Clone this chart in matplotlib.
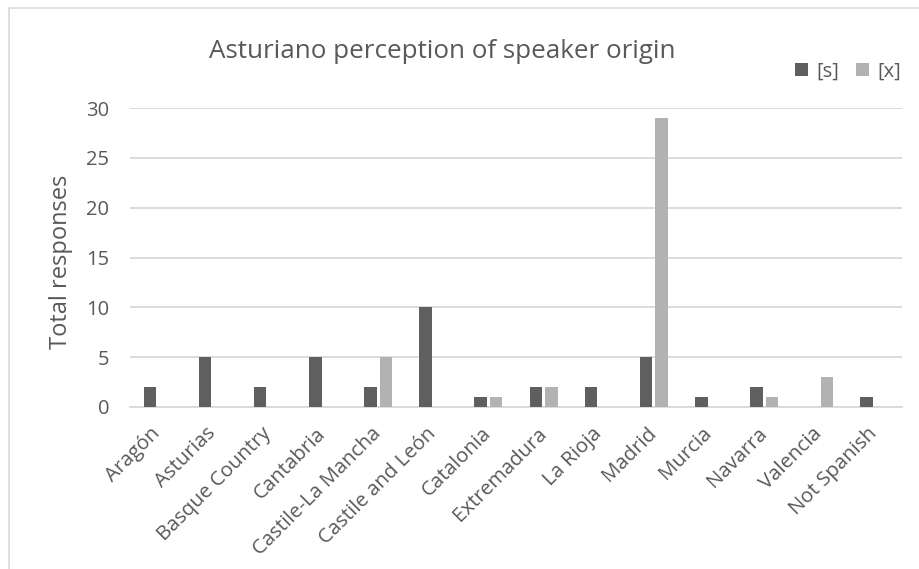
import numpy as np
import matplotlib
matplotlib.use("Agg")
from matplotlib import pyplot as plt
from matplotlib.patches import Rectangle

plt.rcParams['font.family'] = ['Open Sans', 'DejaVu Sans']

# data
regions = ["Aragón", "Asturias", "Basque Country", "Cantabria", "Castile-La Mancha",
           "Castile and León", "Catalonia", "Extremadura", "La Rioja", "Madrid",
           "Murcia", "Navarra", "Valencia", "Not Spanish"]
s_counts = [2, 5, 2, 5, 2, 10, 1, 2, 2, 5, 1, 2, 0, 1]
x_counts = [0, 0, 0, 0, 5, 0, 1, 2, 0, 29, 0, 1, 3, 0]
y_ticks = [0, 5, 10, 15, 20, 25, 30]

text_col = "#595959"
s_col = "#5f5f5f"
x_col = "#b2b2b2"
grid_col = "#d9d9d9"

fig = plt.figure(figsize=(9.19, 5.69), dpi=100)

# chart frame (cut off on right and bottom like the screenshot)
fig.patches.append(Rectangle((9 / 919, -0.1), 1.2, 1 - 8 / 569 + 0.1,
                             transform=fig.transFigure, fill=False,
                             edgecolor=grid_col, linewidth=1.2))

ax = fig.add_axes([130 / 919, 1 - 407 / 569, 772 / 919, 299 / 569])

pos = np.arange(len(regions))
w = 0.227
off = 0.14
ax.bar(pos - off, s_counts, width=w, color=s_col, label="[s]", zorder=3)
ax.bar(pos + off, x_counts, width=w, color=x_col, label="[x]", zorder=3)

ax.set_xlim(-0.5, len(regions) - 0.5)
ax.set_ylim(0, 30)
ax.set_yticks(y_ticks)
ax.set_yticklabels([str(t) for t in y_ticks], fontsize=14.5, color=text_col)
ax.yaxis.grid(True, color=grid_col, linewidth=1.3, zorder=0)
ax.tick_params(axis='y', length=0, pad=15)
ax.tick_params(axis='x', length=0, pad=17)
for sp in ["top", "right", "left"]:
    ax.spines[sp].set_visible(False)
ax.spines["bottom"].set_color(grid_col)
ax.spines["bottom"].set_linewidth(1.3)

ax.set_xticks(pos)
ax.set_xticklabels(regions, rotation=45, ha='right', va='center',
                   rotation_mode='anchor', fontsize=14.7, color=text_col)

ax.set_ylabel("Total responses", fontsize=17, color=text_col)
ax.yaxis.set_label_coords((73 - 130) / 772, (407 - 261.5) / 299)

fig.text(442 / 919, 1 - 51 / 569, "Asturiano perception of speaker origin",
         ha='center', va='center', fontsize=18.7, color=text_col)

leg = fig.legend(loc='center', bbox_to_anchor=(848 / 919, 1 - 71.5 / 569), ncol=2,
                 frameon=False, fontsize=14.5, handlelength=0.65, handleheight=0.65,
                 handletextpad=0.4, columnspacing=0.85, labelcolor=text_col,
                 borderpad=0, borderaxespad=0)

fig.savefig("out.png", dpi=100)
